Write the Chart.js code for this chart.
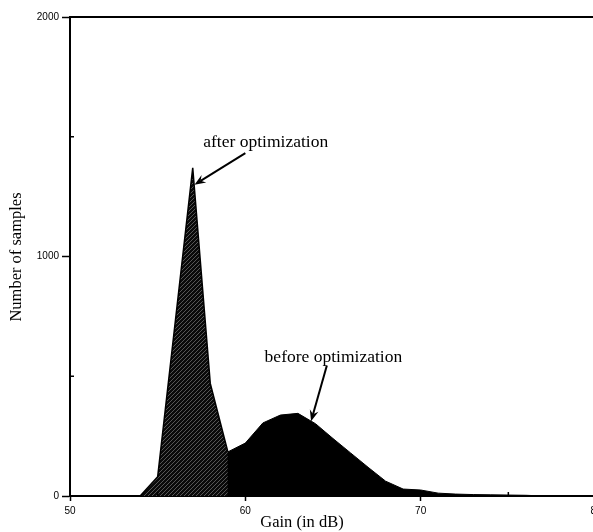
<!DOCTYPE html>
<html>
<head>
<meta charset="utf-8">
<script src="https://cdn.jsdelivr.net/npm/chart.js@4.4.1/dist/chart.umd.min.js"></script>
<style>
  html, body { margin: 0; padding: 0; background: #fff; overflow: hidden; }
  #wrap { width: 600px; height: 532px; }
</style>
</head>
<body>
<div id="wrap"><canvas id="gainChart" width="600" height="532"></canvas></div>
<script>
// Data (gain in dB, number of samples)
const gainDb = [54, 55, 56, 57, 58, 59, 60, 61, 62, 63, 64, 65, 66, 67, 68, 69, 70, 71, 72, 73, 74, 75, 76, 77];
const beforeCounts = [0, 40, 78, 115, 150, 184, 221, 305, 338, 345, 302, 240, 180, 120, 62, 29, 25, 12, 8, 6, 5, 4, 3, 0];
const afterCounts = [0, 80, 725, 1370, 470, 185]; // 54..59 dB, rest hidden under "before"

const xTicks = [50, 60, 70, 80];
const yTicks = [0, 1000, 2000];

// annotation labels, anchored in data units
const notes = [
    { text: 'after optimization', x: 57.6, y: 1457, from: [60.0, 1432], to: [57.1, 1300] },
    { text: 'before optimization', x: 61.1, y: 560, from: [64.65, 545], to: [63.75, 312] }
];

// hatch pattern for the "after" area
function makeHatch() {
    const c = document.createElement('canvas');
    c.width = 4;
    c.height = 4;
    const g = c.getContext('2d');
    g.fillStyle = '#0a0a0a';
    g.fillRect(0, 0, 4, 4);
    g.strokeStyle = 'rgba(255,255,255,0.45)';
    g.lineWidth = 0.7;
    g.beginPath();
    g.moveTo(0, 4); g.lineTo(4, 0);
    g.moveTo(-1, 1); g.lineTo(1, -1);
    g.moveTo(3, 5); g.lineTo(5, 3);
    g.stroke();
    return g.createPattern(c, 'repeat');
}

const framePlugin = {
    id: 'framePlugin',
    afterDraw(chart) {
        const ctx = chart.ctx;
        const area = chart.chartArea;
        const xs = chart.scales.x;
        const ys = chart.scales.y;
        ctx.save();

        // top border
        ctx.strokeStyle = '#000';
        ctx.lineWidth = 2;
        ctx.beginPath();
        ctx.moveTo(area.left, area.top);
        ctx.lineTo(area.right, area.top);
        ctx.stroke();

        // minor ticks
        ctx.lineWidth = 1.5;
        ctx.beginPath();
        [55, 65, 75].forEach(v => {
            const px = xs.getPixelForValue(v);
            ctx.moveTo(px, area.bottom); ctx.lineTo(px, area.bottom - 4);
        });
        [500, 1500].forEach(v => {
            const py = ys.getPixelForValue(v);
            ctx.moveTo(area.left, py); ctx.lineTo(area.left + 4, py);
        });
        ctx.stroke();

        // axis titles
        ctx.fillStyle = '#000';
        ctx.font = '16.5px "Liberation Serif", serif';
        ctx.textAlign = 'center';
        ctx.textBaseline = 'middle';
        ctx.fillText('Gain (in dB)', 302, 523);
        ctx.save();
        ctx.translate(17, 257);
        ctx.rotate(-Math.PI / 2);
        ctx.fillText('Number of samples', 0, 0);
        ctx.restore();

        // annotations with arrows
        ctx.font = '17.5px "Liberation Serif", serif';
        ctx.textAlign = 'left';
        ctx.textBaseline = 'alphabetic';
        notes.forEach(n => {
            ctx.fillText(n.text, xs.getPixelForValue(n.x), ys.getPixelForValue(n.y));
            const x1 = xs.getPixelForValue(n.from[0]), y1 = ys.getPixelForValue(n.from[1]);
            const x2 = xs.getPixelForValue(n.to[0]), y2 = ys.getPixelForValue(n.to[1]);
            const ang = Math.atan2(y2 - y1, x2 - x1);
            const head = 12;
            ctx.lineWidth = 2;
            ctx.beginPath();
            ctx.moveTo(x1, y1);
            ctx.lineTo(x2 - Math.cos(ang) * head * 0.6, y2 - Math.sin(ang) * head * 0.6);
            ctx.stroke();
            ctx.beginPath();
            ctx.moveTo(x2, y2);
            ctx.lineTo(x2 - head * Math.cos(ang - 0.38), y2 - head * Math.sin(ang - 0.38));
            ctx.lineTo(x2 - head * 0.6 * Math.cos(ang), y2 - head * 0.6 * Math.sin(ang));
            ctx.lineTo(x2 - head * Math.cos(ang + 0.38), y2 - head * Math.sin(ang + 0.38));
            ctx.closePath();
            ctx.fill();
        });
        ctx.restore();
    }
};

const ctx = document.getElementById('gainChart').getContext('2d');

new Chart(ctx, {
    type: 'line',
    data: {
        datasets: [
            {
                label: 'before optimization',
                data: gainDb.map((g, i) => ({ x: g, y: beforeCounts[i] })),
                borderColor: '#000',
                backgroundColor: '#000',
                borderWidth: 1,
                fill: 'origin',
                pointRadius: 0,
                tension: 0,
                order: 2
            },
            {
                label: 'after optimization',
                data: afterCounts.map((c, i) => ({ x: gainDb[i], y: c })),
                borderColor: '#000',
                backgroundColor: makeHatch(),
                borderWidth: 1.5,
                fill: 'origin',
                pointRadius: 0,
                tension: 0,
                order: 1
            }
        ]
    },
    options: {
        responsive: false,
        animation: false,
        layout: { padding: { top: 17, right: 4, left: 0, bottom: 0 } },
        plugins: {
            legend: { display: false },
            tooltip: { enabled: false }
        },
        scales: {
            x: {
                type: 'linear',
                min: 50,
                max: 80,
                afterBuildTicks: s => { s.ticks = xTicks.map(v => ({ value: v })); },
                afterFit: s => { s.height = 36; s.paddingLeft = 0; s.paddingRight = 0; },
                border: { display: true, color: '#000', width: 2 },
                grid: { drawOnChartArea: false, color: '#000', tickLength: 5, tickWidth: 1.5 },
                ticks: {
                    color: '#000',
                    font: { family: '"Liberation Sans", sans-serif', size: 10 },
                    padding: 4,
                    maxRotation: 0,
                    autoSkip: false,
                    callback: v => String(v)
                },
                title: { display: false }
            },
            y: {
                type: 'linear',
                min: 0,
                max: 2000,
                afterBuildTicks: s => { s.ticks = yTicks.map(v => ({ value: v })); },
                afterFit: s => { s.width = 70; s.paddingTop = 0; s.paddingBottom = 0; },
                border: { display: true, color: '#000', width: 2 },
                grid: { drawOnChartArea: false, color: '#000', tickLength: 8, tickWidth: 1.5 },
                ticks: {
                    color: '#000',
                    font: { family: '"Liberation Sans", sans-serif', size: 10 },
                    padding: 3,
                    callback: v => String(v)
                },
                title: { display: false }
            }
        }
    },
    plugins: [framePlugin]
});
</script>
</body>
</html>
